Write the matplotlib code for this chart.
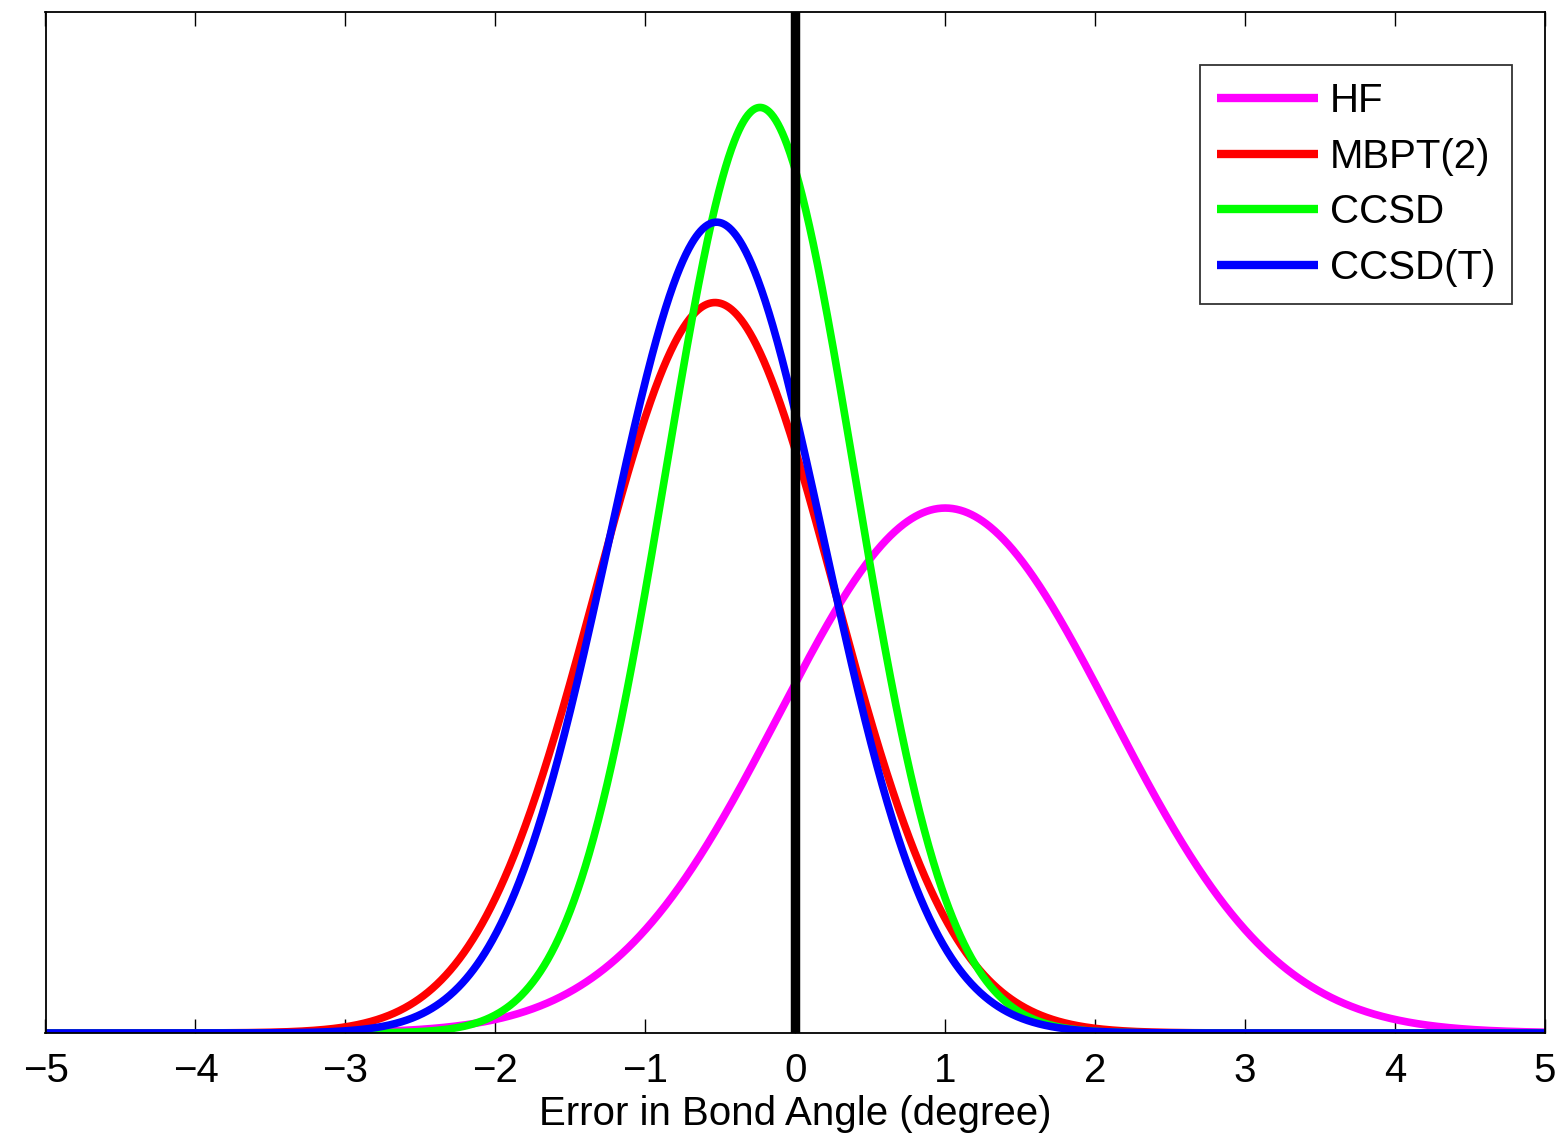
import numpy as np
import matplotlib
matplotlib.use("Agg")
import matplotlib.pyplot as plt

plt.rcParams['font.family'] = ['Liberation Sans', 'DejaVu Sans']

# Normal-distribution parameters of the error in bond angle (degree)
methods = ["HF", "MBPT(2)", "CCSD", "CCSD(T)"]
means = [1.00, -0.535, -0.235, -0.525]
sigmas = [1.109, 0.797, 0.629, 0.718]
colors = ["#ff00ff", "#ff0000", "#00ff00", "#0000ff"]
xticks = [-5, -4, -3, -2, -1, 0, 1, 2, 3, 4, 5]
xtick_labels = ["\u22125", "\u22124", "\u22123", "\u22122", "\u22121", "0", "1", "2", "3", "4", "5"]

FS = 29

fig = plt.figure(figsize=(15.57, 11.37), dpi=100)
ax = fig.add_axes([45.5 / 1557, 1 - 1033 / 1137, 1499.5 / 1557, 1021.5 / 1137])

x = np.linspace(-5, 5, 2001)
for name, mu, s, c in zip(methods, means, sigmas, colors):
    y = np.exp(-0.5 * ((x - mu) / s) ** 2) / (s * np.sqrt(2 * np.pi))
    ax.plot(x, y, color=c, lw=5.5, label=name, solid_capstyle='butt', zorder=2)

ax.axvline(0, color='k', lw=6.8, zorder=3)

ax.set_xlim(-5, 5)
ax.set_ylim(0, 0.7)
ax.set_xticks(xticks)
ax.set_xticklabels(xtick_labels)
ax.set_yticks([])
ax.tick_params(axis='x', which='both', direction='in', top=True, bottom=True,
               length=10, width=1, labelsize=FS, pad=14)
for sp in ax.spines.values():
    sp.set_linewidth(1.3)
    sp.set_zorder(4)

ax.set_xlabel("Error in Bond Angle (degree)", fontsize=FS, labelpad=3)

leg = ax.legend(loc='upper right', bbox_to_anchor=(0.978, 0.9476), borderaxespad=0,
                fontsize=FS, fancybox=False, frameon=True, handlelength=2.5,
                handletextpad=0.3, labelspacing=0.44, borderpad=0.42)
leg.get_frame().set_edgecolor('k')
leg.get_frame().set_linewidth(1.3)
for line in leg.get_lines():
    line.set_linewidth(6)

fig.savefig("out.png", dpi=100)
